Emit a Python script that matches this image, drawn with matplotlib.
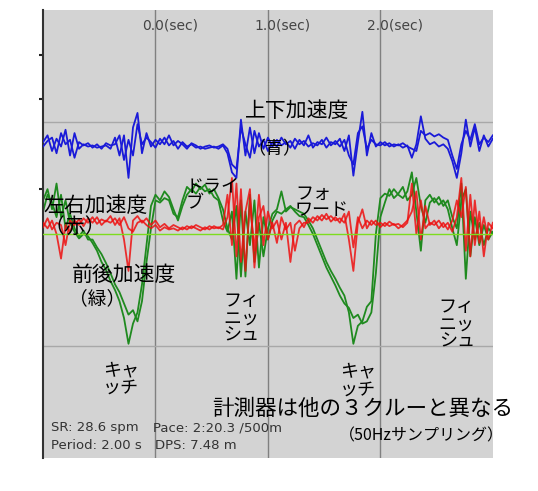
import numpy as np
import matplotlib
matplotlib.use("Agg")
import matplotlib.pyplot as plt

# 0.04 s sampling, -1.0 s .. 3.0 s
t = np.arange(101) * 0.04 - 1.0

# 上下加速度 (blue), two overlaid strokes
vert_1 = [0.82, 0.88, 0.74, 0.85, 0.78, 0.93, 0.70, 0.90, 0.76,
          0.80, 0.78, 0.79, 0.77, 0.78, 0.79, 0.76,
          0.86, 0.70, 0.88, 0.50, 0.95, 1.08, 0.72, 0.90,
          0.78, 0.84, 0.80, 0.86, 0.79, 0.83, 0.76, 0.82, 0.78, 0.80,
          0.77, 0.78, 0.76, 0.77, 0.78, 0.76, 0.79,
          0.72, 0.55, 0.50,
          1.02, 0.70, 0.95, 0.72, 0.90, 0.76, 0.86,
          0.78, 0.84, 0.79, 0.82, 0.77, 0.85, 0.80, 0.83, 0.78, 0.81, 0.79, 0.84, 0.77, 0.82, 0.80, 0.85,
          0.74, 0.88, 0.52, 0.82, 1.09, 0.70, 0.90, 0.78,
          0.82, 0.79, 0.81, 0.78, 0.80, 0.77, 0.79,
          0.68, 0.80, 1.05, 0.85, 0.80, 0.82, 0.78, 0.80, 0.76,
          0.65, 0.50, 0.72, 1.02, 0.78, 0.95, 0.74, 0.88, 0.78, 0.85]
vert_2 = [0.78, 0.83, 0.86, 0.72, 0.90, 0.80, 0.84, 0.68, 0.82,
          0.79, 0.81, 0.77, 0.80, 0.76, 0.81, 0.79,
          0.80, 0.88, 0.66, 0.84, 0.70, 0.98, 0.80, 0.86,
          0.82, 0.77, 0.85, 0.80, 0.88, 0.79, 0.83, 0.80, 0.76, 0.81,
          0.79, 0.76, 0.78, 0.79, 0.77, 0.78, 0.80,
          0.76, 0.62, 0.58,
          0.95, 0.80, 0.68, 0.92, 0.78, 0.84, 0.74,
          0.82, 0.78, 0.86, 0.80, 0.83, 0.76, 0.84, 0.79, 0.88, 0.77, 0.82, 0.80, 0.86, 0.79, 0.83, 0.78,
          0.84, 0.70, 0.62, 0.90, 0.96, 0.76, 0.84, 0.80,
          0.79, 0.82, 0.78, 0.80, 0.79, 0.81, 0.78, 0.76,
          0.74, 0.92, 0.88, 0.90, 0.87, 0.89, 0.86, 0.84,
          0.70, 0.58, 0.80, 0.92, 0.84, 0.98, 0.80, 0.86, 0.82, 0.88]

# 前後加速度 (green)
surge_1 = [0.30, 0.40, 0.22, 0.45, 0.15, 0.30, 0.10,
           0.02, -0.04, 0.00, -0.02,
           -0.08, -0.15, -0.25, -0.32, -0.42, -0.50,
           -0.60, -0.75, -0.98, -0.80,
           -0.70, -0.45, -0.10,
           0.25, 0.35, 0.30, 0.38,
           0.33, 0.22, 0.12, 0.25,
           0.35, 0.40, 0.36, 0.42, 0.38, 0.40, 0.33, 0.30,
           0.12, 0.02, 0.20,
           -0.40, 0.30, -0.38, 0.35, -0.25, 0.10, -0.20, 0.05,
           0.18, 0.22, 0.38, 0.20, 0.24, 0.22, 0.20, 0.18,
           0.12, 0.05, -0.05, -0.15,
           -0.25, -0.33, -0.40, -0.48, -0.55,
           -0.70, -0.98, -0.82, -0.78, -0.65,
           -0.60, 0.00, 0.32,
           0.36, 0.34, 0.40, 0.35, 0.32, 0.38, 0.55, 0.20,
           -0.15, 0.30, 0.35, 0.28, 0.33, 0.25, 0.30, 0.15, 0.05,
           0.45, -0.40, 0.20, -0.05, 0.10, -0.10, 0.05, 0.00]
surge_2 = [0.20, 0.35, 0.28, 0.15, 0.35, 0.05, 0.18,
           0.05, -0.02, 0.03, -0.05,
           -0.05, -0.12, -0.18, -0.26, -0.35, -0.45,
           -0.52, -0.62, -0.72, -0.68,
           -0.78, -0.60, -0.25,
           0.05, 0.30, 0.28, 0.32,
           0.30, 0.18, 0.15, 0.30,
           0.42, 0.38, 0.45, 0.40, 0.44, 0.36, 0.40, 0.32,
           0.22, 0.05, -0.05,
           0.25, -0.38, 0.20, -0.10, 0.30, -0.30, 0.15, -0.05,
           0.12, 0.20, 0.18, 0.22, 0.25, 0.20, 0.16, 0.15,
           0.08, 0.00, -0.10, -0.20,
           -0.30, -0.38, -0.46, -0.55, -0.62,
           -0.66, -0.75, -0.72, -0.80, -0.78,
           -0.70, -0.35, 0.15,
           0.28, 0.40, 0.32, 0.36, 0.42, 0.30, 0.35, 0.50,
           0.25, 0.10, 0.28, 0.32, 0.26, 0.30, 0.22, 0.05, -0.10,
           0.30, 0.40, -0.20, 0.15, -0.10, 0.08, -0.05, 0.02]

# 左右加速度 (red)
sway_1 = [0.10, 0.05, 0.12, 0.00, -0.22, 0.08, 0.02,
          0.12, 0.08, 0.14, 0.10, 0.15, 0.09, 0.13, 0.11, 0.16, 0.08,
          0.14, -0.05, -0.33, 0.12, 0.16, 0.10, 0.14,
          0.08, 0.12, 0.06, 0.09, 0.05, 0.08, 0.06, 0.04, 0.07, 0.05, 0.08, 0.06, 0.04, 0.07, 0.05, 0.06, 0.04,
          0.15, 0.50, -0.20, 0.40, -0.33, 0.30, -0.15, 0.35, -0.10, 0.20,
          0.05, 0.12, -0.05, 0.10, -0.25, 0.08, 0.12, 0.06,
          0.14, 0.10, 0.16, 0.12, 0.18, 0.11, 0.15, 0.10,
          0.18, -0.05, -0.33, 0.10, 0.22, 0.05,
          0.12, 0.08, 0.10, 0.07, 0.11, 0.08, 0.09, 0.06, 0.10,
          0.45, 0.00, 0.30, 0.05, 0.10,
          0.08, 0.12, 0.06, 0.10, 0.02, 0.15,
          0.50, -0.15, 0.35, -0.10, 0.20, -0.20, 0.10, 0.05]
sway_2 = [0.06, 0.14, 0.04, 0.10, 0.08, -0.10, 0.12,
          0.08, 0.13, 0.07, 0.14, 0.10, 0.15, 0.08, 0.12, 0.10, 0.14,
          0.08, 0.15, 0.05, 0.02, 0.10, 0.12, 0.08,
          0.05, 0.08, 0.03, 0.06, 0.04, 0.05, 0.03, 0.06, 0.04, 0.07, 0.05, 0.03, 0.06, 0.04, 0.07, 0.05, 0.08,
          0.35, -0.10, 0.45, -0.25, 0.20, 0.40, -0.30, 0.15, 0.25, -0.05,
          0.10, -0.08, 0.15, 0.04, 0.10, -0.15, 0.05, 0.10,
          0.10, 0.15, 0.12, 0.17, 0.13, 0.16, 0.12, 0.14,
          0.10, 0.20, -0.12, 0.15, 0.05, 0.12,
          0.08, 0.12, 0.06, 0.10, 0.07, 0.09, 0.05, 0.08, 0.12,
          0.20, 0.38, -0.05, 0.25, 0.08,
          0.12, 0.05, 0.10, 0.04, 0.12, 0.30,
          0.15, 0.42, -0.20, 0.30, -0.08, 0.15, -0.05, 0.10]

sec_ticks = [0.0, 1.0, 2.0]
sec_labels = ["0.0(sec)", "1.0(sec)", "2.0(sec)"]

jp = ["Noto Sans CJK JP", "DejaVu Sans"]

fig = plt.figure(figsize=(5.38, 4.91), dpi=100)
ax = fig.add_axes([0.080, 0.067, 0.836, 0.913])
ax.set_facecolor("#d3d3d3")
ax.set_xlim(-1.0, 3.0)
ax.set_ylim(-2.0, 2.0)

for s in ["top", "right", "bottom"]:
    ax.spines[s].set_visible(False)
ax.spines["left"].set_color("#333333")
ax.spines["left"].set_linewidth(1.5)
ax.set_xticks([])
ax.set_yticks([0.4, 1.2, 1.6])
ax.set_yticklabels([])
ax.tick_params(axis="y", direction="out", length=3, width=1.5, color="#222222")

for x in sec_ticks:
    ax.axvline(x, color="#808080", lw=1.0, zorder=1)
for y in (-1.0, 1.0):
    ax.axhline(y, color="#a8a8a8", lw=1.0, zorder=1)

for g in (surge_1, surge_2):
    ax.plot(t, g, color="#1f8a1f", lw=1.3, zorder=2)
for r in (sway_1, sway_2):
    ax.plot(t, r, color="#ee1010", lw=1.3, alpha=0.85, zorder=3)
ax.axhline(0.0, color="#7ddc1f", lw=1.0, zorder=4)
for b in (vert_1, vert_2):
    ax.plot(t, b, color="#1a1ad8", lw=1.3, zorder=5)

for x, lab in zip(sec_ticks, sec_labels):
    ax.text(x - 0.12, 1.86, lab, fontsize=10, color="#444444", va="center", ha="left")

# annotations
ax.text(0.80, 1.10, "上下加速度", family=jp, fontsize=15, va="center", zorder=6)
ax.text(0.82, 0.76, "（青）", family=jp, fontsize=13, va="center", zorder=6)
ax.text(-1.0, 0.25, "左右加速度", family=jp, fontsize=15, va="center", zorder=6)
ax.text(-1.0, 0.06, "（赤）", family=jp, fontsize=15, va="center", zorder=6)
ax.text(0.27, 0.50, "ドライ\nブ", family=jp, fontsize=13, va="top", linespacing=0.9, zorder=6)
ax.text(1.24, 0.44, "フォ\nワード", family=jp, fontsize=13, va="top", linespacing=0.9, zorder=6)
ax.text(-0.74, -0.37, "前後加速度", family=jp, fontsize=15, va="center", zorder=6)
ax.text(-0.77, -0.58, "（緑）", family=jp, fontsize=13.5, va="center", zorder=6)
for x, y in ((0.60, -0.52), (2.52, -0.57)):
    ax.text(x, y, "フィ\nニッ\nシュ", family=jp, fontsize=13, va="top", linespacing=0.95, zorder=6)
for x, y in ((-0.47, -1.14), (1.64, -1.15)):
    ax.text(x, y, "キャ\nッチ", family=jp, fontsize=13, va="top", linespacing=0.95, zorder=6)
ax.text(0.50, -1.56, "計測器は他の３クルーと異なる", family=jp, fontsize=15.5, va="center", zorder=6)
ax.text(1.63, -1.80, "（50Hzサンプリング）", family=jp, fontsize=11.5, va="center", zorder=6)

# stroke summary
ax.text(-0.93, -1.73, "SR: 28.6 spm", fontsize=9.5, color="#333333", va="center")
ax.text(-0.02, -1.73, "Pace: 2:20.3 /500m", fontsize=9.5, color="#333333", va="center")
ax.text(-0.93, -1.89, "Period: 2.00 s", fontsize=9.5, color="#333333", va="center")
ax.text(0.0, -1.89, "DPS: 7.48 m", fontsize=9.5, color="#333333", va="center")

fig.savefig("out.png", dpi=100)
